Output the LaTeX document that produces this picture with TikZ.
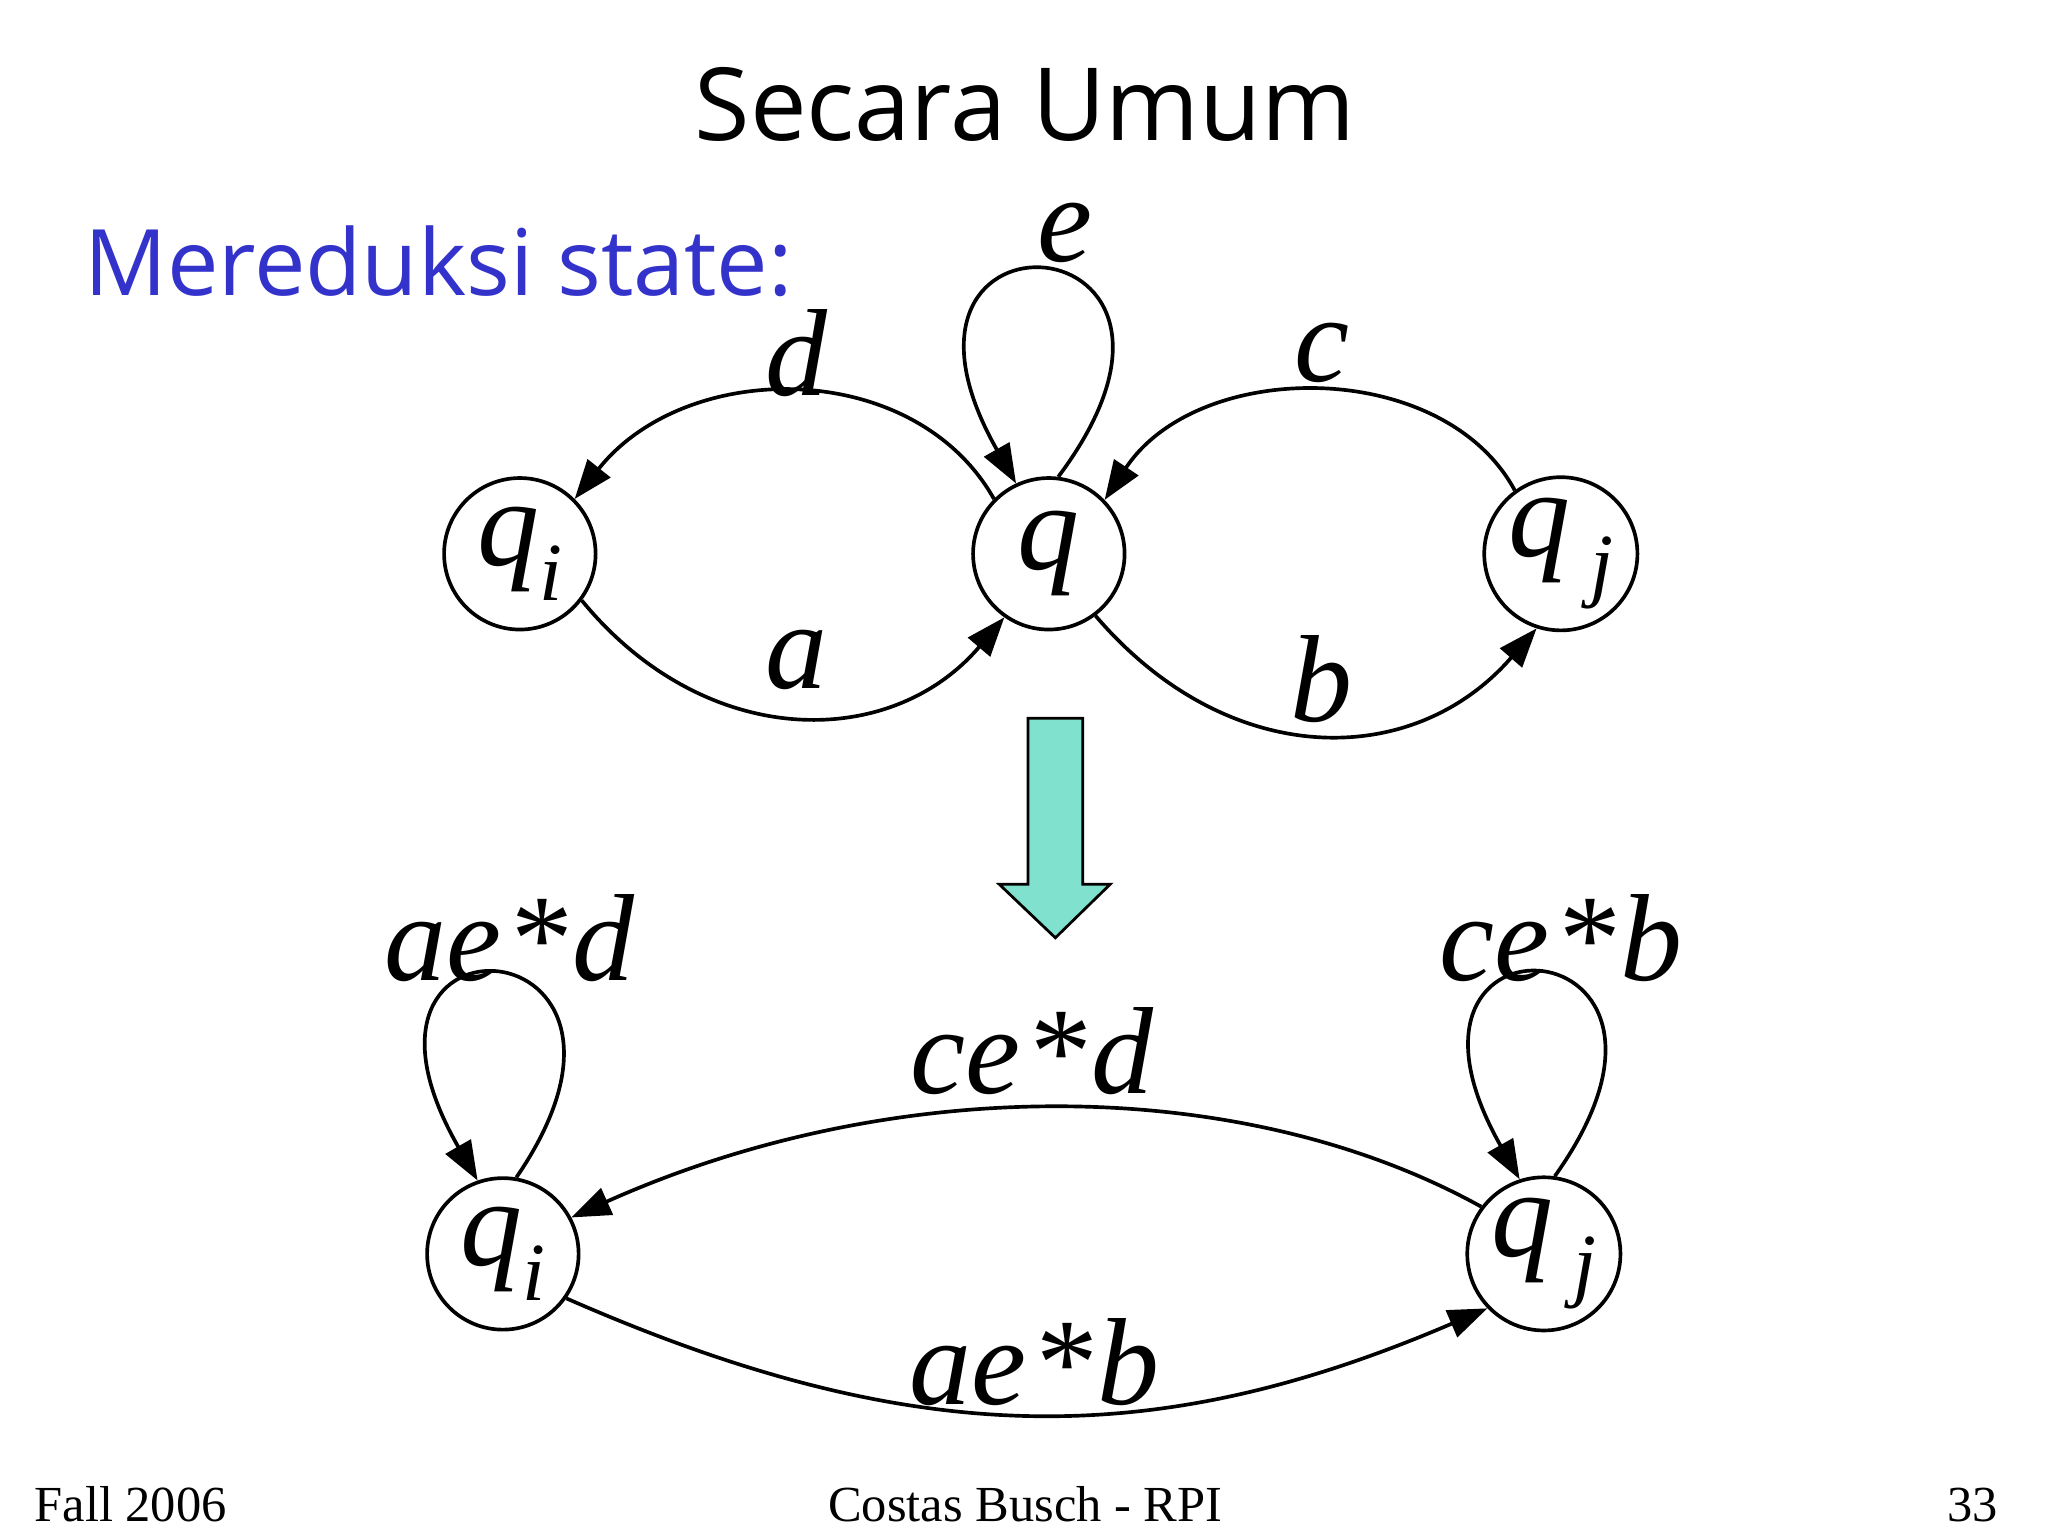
\documentclass[tikz,border=0pt]{standalone}
\usepackage{fontspec}
\setmainfont{Liberation Serif}
\newfontfamily\titlefont{Open Sans}
\usetikzlibrary{arrows.meta}
\newcommand{\sbs}[1]{\raisebox{-0.28em}{\fontsize{18}{18}\selectfont\itshape #1}}
\begin{document}
\begin{tikzpicture}[
  st/.style={circle,draw,line width=0.8pt,minimum size=1.16cm,inner sep=0pt,font=\fontsize{27}{27}\selectfont\itshape},
  lbl/.style={font=\fontsize{27}{27}\selectfont\itshape},
  edge/.style={line width=0.8pt,-{Triangle[length=0.3cm,width=0.22cm]}},
  foot/.style={font=\fontsize{11}{11}\selectfont}]
\useasboundingbox[fill=white] (0,0) rectangle (15.68,-11.76);
\node[font=\titlefont\fontsize{22}{22}\selectfont] (title) at (7.85,-0.8) {Secara Umum};
\node[font=\titlefont\fontsize{20}{20}\selectfont,text={rgb,255:red,51;green,51;blue,204},anchor=west] (sub) at (0.52,-2.0) {Mereduksi state:};
\node[st] (qi) at (3.98,-4.24) {q\sbs{i}};
\node[st] (q) at (8.03,-4.24) {q};
\node[st] (qj) at (11.95,-4.24) {q\,\sbs{j}};
\node[st] (bi) at (3.85,-9.60) {q\sbs{i}};
\node[st] (bj) at (11.82,-9.60) {q\,\sbs{j}};
\draw[edge] (q.135) .. controls (7.00,-2.74) and (5.26,-2.74) .. (qi.45);
\draw[edge] (qi.-37) .. controls (5.40,-5.75) and (6.82,-5.75) .. (q.-125);
\draw[edge] (qj.126) .. controls (11.05,-2.74) and (9.18,-2.74) .. (q.44);
\draw[edge] (q.-53) .. controls (9.40,-5.90) and (10.82,-5.90) .. (qj.-108);
\draw[edge] (q.83) .. controls (9.60,-1.65) and (6.50,-1.45) .. (q.115);
\draw[edge] (bi.80) .. controls (5.30,-7.05) and (2.40,-6.85) .. (bi.109);
\draw[edge] (bj.82) .. controls (13.30,-7.05) and (10.40,-6.85) .. (bj.108);
\draw[edge] (bj.143) .. controls (9.50,-8.22) and (6.83,-8.22) .. (bi.28);
\draw[edge] (bi.-35) .. controls (7.00,-11.11) and (8.84,-11.11) .. (bj.-136);
\node[lbl] (le) at (8.15,-1.78) {e};
\node[lbl] (ld) at (6.10,-2.70) {d};
\node[lbl] (lc) at (10.12,-2.70) {c};
\node[lbl] (la) at (6.10,-5.05) {a};
\node[lbl] (lb) at (10.12,-5.20) {b};
\node[lbl] (l1) at (3.90,-7.18) {ae\kern1pt*\kern1pt d};
\node[lbl] (l2) at (11.95,-7.18) {ce\kern1pt*\kern1pt b};
\node[lbl] (l3) at (7.90,-8.05) {ce\kern1pt*\kern1pt d};
\node[lbl] (l4) at (7.92,-10.43) {ae\kern1pt*\kern1pt b};
\draw[fill={rgb,255:red,128;green,226;blue,206},line width=0.6pt] (7.87,-5.50) -- (8.29,-5.50) -- (8.29,-6.77) -- (8.50,-6.77) -- (8.08,-7.18) -- (7.65,-6.77) -- (7.87,-6.77) -- cycle;
\node[foot] (f1) at (1.00,-11.52) {Fall 2006};
\node[foot] (f2) at (7.85,-11.52) {Costas Busch - RPI};
\node[foot] (f3) at (15.10,-11.52) {33};
\end{tikzpicture}
\end{document}
